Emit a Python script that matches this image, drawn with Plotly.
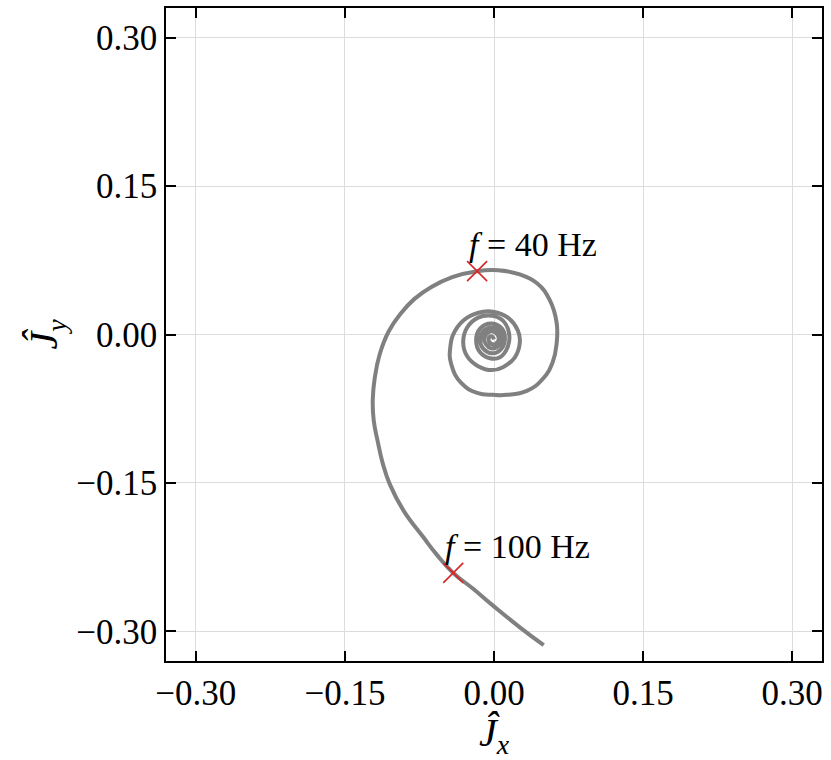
import plotly.graph_objects as go

# Spiral trajectory (J_x, J_y), ordered from the outer end inward
jx = [0.050, 0.026, -0.001, -0.021, -0.041, -0.058, -0.071, -0.091, -0.105, -0.112,
      -0.117, -0.121, -0.122, -0.120, -0.115, -0.106, -0.094, -0.080, -0.063, -0.042,
      -0.017, 0.004, 0.025, 0.043, 0.056, 0.063, 0.063, 0.059, 0.049, 0.033, 0.013,
      -0.001, -0.017, -0.033, -0.043, -0.044, -0.039, -0.027, -0.011, -0.001, 0.014,
      0.024, 0.026, 0.021, 0.009, -0.002, -0.016, -0.027, -0.031, -0.027, -0.016,
      -0.002, 0.009, 0.015, 0.014, 0.006, -0.004, -0.014, -0.018, -0.014, -0.003,
      0.008, 0.011, 0.007, -0.002, -0.011, -0.014, -0.010, -0.002, 0.006, 0.008,
      0.004, -0.003, -0.008, -0.010, -0.006, -0.001, 0.004, 0.004, -0.001, -0.005,
      -0.005, -0.002, 0.000]
jy = [-0.314, -0.296, -0.274, -0.257, -0.241, -0.222, -0.205, -0.178, -0.151, -0.130,
      -0.108, -0.087, -0.066, -0.044, -0.020, 0.003, 0.021, 0.036, 0.048, 0.058,
      0.064, 0.065, 0.061, 0.052, 0.035, 0.012, -0.009, -0.028, -0.045, -0.057, -0.061,
      -0.061, -0.059, -0.049, -0.030, -0.013, 0.004, 0.017, 0.023, 0.023, 0.017,
      0.004, -0.008, -0.023, -0.033, -0.036, -0.032, -0.022, -0.008, 0.007, 0.017,
      0.019, 0.014, 0.002, -0.012, -0.023, -0.024, -0.018, -0.006, 0.006, 0.011,
      0.006, -0.005, -0.015, -0.019, -0.014, -0.005, 0.004, 0.007, 0.003, -0.005,
      -0.012, -0.014, -0.010, -0.004, 0.002, 0.003, -0.001, -0.007, -0.010, -0.007,
      -0.003, -0.002, -0.005]

# Marked frequencies
mark_x = [-0.017, -0.041]
mark_y = [0.064, -0.241]
mark_labels = ["<i>f</i> = 40 Hz", "<i>f</i> = 100 Hz"]

tick_vals = [-0.30, -0.15, 0.00, 0.15, 0.30]
tick_text = ["\u22120.30", "\u22120.15", "0.00", "0.15", "0.30"]

FONT = "Liberation Serif"

fig = go.Figure()
fig.add_trace(go.Scatter(x=jx, y=jy, mode="lines",
                         line=dict(color="#808080", width=4, shape="spline", smoothing=1.3),
                         hoverinfo="skip", showlegend=False))
fig.add_trace(go.Scatter(x=mark_x, y=mark_y, mode="markers",
                         marker=dict(symbol="x-thin", size=20,
                                     line=dict(color="#d62728", width=1.6)),
                         hoverinfo="skip", showlegend=False))
for mx, my, lab in zip(mark_x, mark_y, mark_labels):
    fig.add_annotation(x=mx, y=my, text=lab, showarrow=False,
                       xanchor="left", yanchor="bottom", xshift=-10, yshift=6,
                       font=dict(family=FONT, size=34, color="black"))

axis_common = dict(
    range=[-0.33, 0.33], tickvals=tick_vals, ticktext=tick_text,
    ticks="inside", ticklen=10, tickwidth=2, tickcolor="black",
    showline=True, linecolor="black", linewidth=1.5, mirror="ticks",
    showgrid=True, gridcolor="#dcdcdc", gridwidth=1, zeroline=False,
    tickfont=dict(family=FONT, size=35, color="black"),
)

fig.update_xaxes(**axis_common,
                 title=dict(text="<i>\u0134</i><sub><i>x</i></sub>",
                            font=dict(family=FONT, size=40, color="black"), standoff=2))
fig.update_yaxes(**axis_common,
                 title=dict(text="<i>\u0134</i><sub><i>y</i></sub>",
                            font=dict(family=FONT, size=40, color="black"), standoff=6))

fig.update_layout(width=831, height=760,
                  margin=dict(l=166, r=9, t=6, b=99),
                  plot_bgcolor="white", paper_bgcolor="white")

fig.write_html("out.html", config={"displayModeBar": False},
               post_script="document.body.style.margin='0px';")
